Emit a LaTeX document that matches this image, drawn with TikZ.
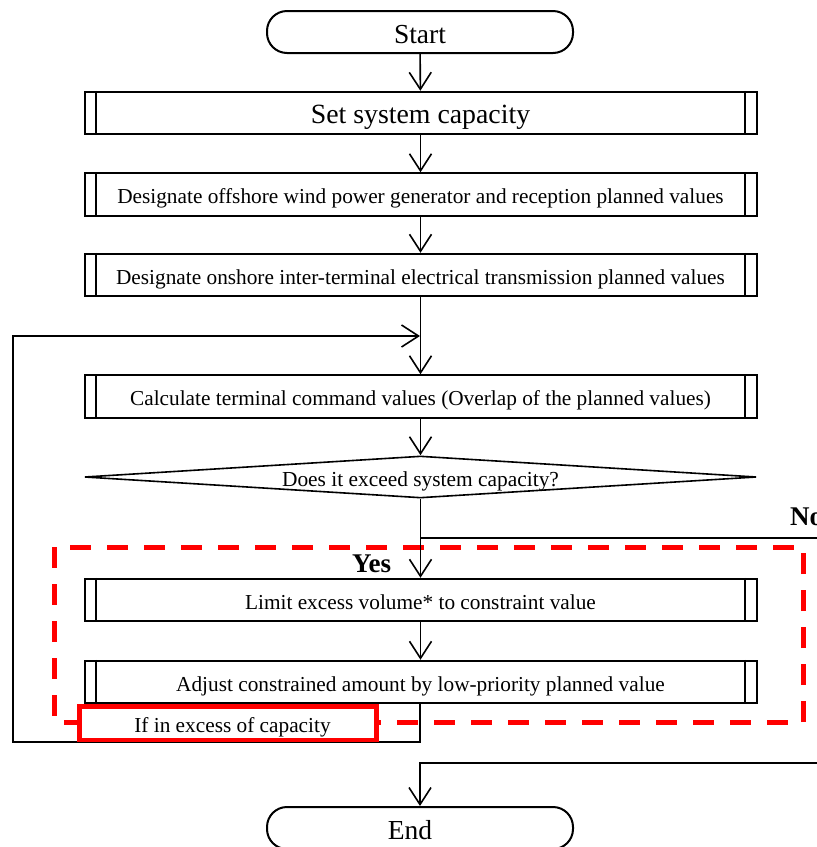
\documentclass[tikz,border=0pt]{standalone}
\usepackage{fontspec}
\setmainfont{Liberation Serif}
\usetikzlibrary{arrows.meta,shapes.geometric}

\begin{document}
\begin{tikzpicture}[x=1pt,y=-1pt,
  flow/.style={line width=1.6pt},
  arr/.style={flow,-{Straight Barb[length=17pt,width=22pt,line width=1.6pt]}},
  procbox/.style={draw,line width=2pt,minimum width=672pt,minimum height=42.5pt,
    inner sep=0pt,text height=18pt,text depth=0pt,font=\fontsize{21.3}{24}\selectfont},
  bigbox/.style={procbox,text height=20.6pt,font=\fontsize{27.8}{30}\selectfont},
  term/.style={draw,line width=2pt,rounded corners=20pt,minimum width=306pt,
    minimum height=42pt,inner sep=0pt,text height=23pt,text depth=0pt,
    font=\fontsize{27.5}{30}\selectfont},
  decision/.style={draw,line width=1.6pt,shape=diamond,aspect=16,minimum width=672pt,
    minimum height=42pt,inner sep=0pt,text height=19.4pt,text depth=0pt,
    font=\fontsize{21.4}{24}\selectfont},
  scope box/.style={draw=red,line width=5pt,dash pattern=on 21pt off 16pt},
  condbox/.style={draw=red,line width=4.5pt,fill=white,minimum width=297pt,
    minimum height=33.5pt,inner sep=0pt,text height=18.8pt,text depth=0pt,
    font=\fontsize{21.3}{24}\selectfont},
  branch/.style={font=\bfseries\fontsize{27}{30}\selectfont,inner sep=0pt},
]
\useasboundingbox (0,0) rectangle (817,847);

% main column
\node[term] (start) at (420,32) {Start};
\node[bigbox] (b1) at (420.5,113) {Set system capacity};
\node[procbox] (b2) at (420.5,194.5) {Designate offshore wind power generator and reception planned values};
\node[procbox] (b3) at (420.5,275) {Designate onshore inter-terminal electrical transmission planned values};
\node[procbox] (b4) at (420.5,396.5) {Calculate terminal command values (Overlap of the planned values)};
\node[decision] (dec) at (420.5,477) {Does it exceed system capacity?};
\node[procbox] (b5) at (420.5,600) {Limit excess volume* to constraint value};
\node[procbox] (b6) at (420.5,682) {Adjust constrained amount by low-priority planned value};
\node[term] (end) at (420,828) {End\kern20pt};

% inner bars of the predefined-process boxes
\foreach \n in {b1,b2,b3,b4,b5,b6}{
  \draw[line width=1.6pt] ([xshift=12.5pt]\n.north west) -- ([xshift=12.5pt]\n.south west);
  \draw[line width=1.6pt] ([xshift=-12.5pt]\n.north east) -- ([xshift=-12.5pt]\n.south east);
}

% junction points
\coordinate (j1) at (420,336);
\coordinate (nosplit) at (420,538);
\coordinate (noR) at (817,538);
\coordinate (loopB) at (13,742);
\coordinate (retR) at (817,763);
\coordinate (retJ) at (420,763);

% region of the excess handling
\draw[scope box] (54.5,547) rectangle (803.5,722.5);

% connectors
\draw[arr] (start) -- (b1);
\draw[arr] (b1) -- (b2);
\draw[arr] (b2) -- (b3);
\draw[arr] (b3) -- (b4);
\draw[arr] (b4) -- (dec);
\draw[arr] (dec) -- (b5);
\draw[arr] (b5) -- (b6);
\draw[flow] (nosplit) -- (noR);
\draw[arr] (b6.south -| j1) -- (j1 |- loopB) -- (loopB) |- (j1);
\draw[arr] (retR) -- (retJ) -- (end);

% condition box
\node[condbox] (cond) at (228,723.3) {\hspace{9pt}If in excess of capacity};

% branch labels
\node[branch,anchor=base west] (yes) at (352,572) {Yes};
\node[branch,anchor=base west] (no) at (790,525) {No};
\end{tikzpicture}
\end{document}
